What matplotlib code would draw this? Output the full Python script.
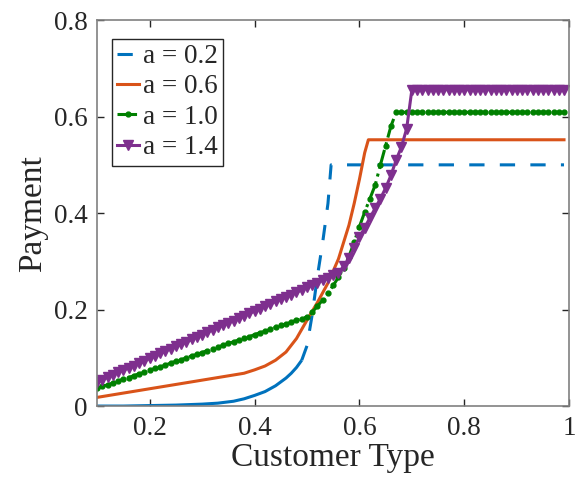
import numpy as np
import matplotlib
matplotlib.use("Agg")
import matplotlib.pyplot as plt

plt.rcParams['font.family'] = ['Liberation Serif', 'DejaVu Serif']
plt.rcParams['mathtext.fontset'] = 'stix'

# a = 0.2 (steep rise, then flat)
blue_x = [0.10, 0.15, 0.20, 0.25, 0.30, 0.33, 0.36, 0.38, 0.40, 0.42, 0.44, 0.46,
          0.47, 0.48, 0.49, 0.50, 0.51, 0.52, 0.53, 0.54, 0.546, 0.99]
blue_y = [0.000, 0.000, 0.001, 0.002, 0.004, 0.006, 0.010, 0.015, 0.022, 0.030, 0.042, 0.058,
          0.068, 0.080, 0.095, 0.125, 0.190, 0.270, 0.340, 0.420, 0.500, 0.500]

# a = 0.6
orange_x = [0.10, 0.38, 0.40, 0.42, 0.44, 0.46, 0.48, 0.50, 0.52, 0.54, 0.56,
            0.58, 0.59, 0.60, 0.61, 0.617, 0.99]
orange_y = [0.018, 0.068, 0.075, 0.083, 0.095, 0.112, 0.140, 0.178, 0.215, 0.255, 0.305,
            0.375, 0.420, 0.470, 0.525, 0.552, 0.552]

# a = 1.0 and a = 1.4 sampled every 0.01 from 0.10 to 0.99
grid_x = np.round(np.arange(0.10, 0.995, 0.01), 2)
green_y = [0.037, 0.041, 0.044, 0.048, 0.052, 0.056, 0.059, 0.063, 0.067, 0.070,
           0.074, 0.078, 0.081, 0.085, 0.089, 0.093, 0.096, 0.100, 0.104, 0.107,
           0.111, 0.115, 0.118, 0.122, 0.126, 0.130, 0.133, 0.137, 0.141, 0.144,
           0.148, 0.152, 0.155, 0.159, 0.163, 0.167, 0.170, 0.174, 0.178, 0.181,
           0.185, 0.195, 0.207, 0.220, 0.234, 0.250, 0.267, 0.287, 0.310, 0.340,
           0.372, 0.402, 0.430, 0.458, 0.500, 0.540, 0.580, 0.609, 0.609, 0.609,
           0.609, 0.609, 0.609, 0.609, 0.609, 0.609, 0.609, 0.609, 0.609, 0.609,
           0.609, 0.609, 0.609, 0.609, 0.609, 0.609, 0.609, 0.609, 0.609, 0.609,
           0.609, 0.609, 0.609, 0.609, 0.609, 0.609, 0.609, 0.609, 0.609, 0.609]
purple_y = [0.050, 0.055, 0.060, 0.065, 0.070, 0.075, 0.079, 0.084, 0.089, 0.094,
            0.099, 0.104, 0.109, 0.114, 0.119, 0.124, 0.128, 0.133, 0.138, 0.143,
            0.148, 0.153, 0.158, 0.163, 0.168, 0.173, 0.177, 0.182, 0.187, 0.192,
            0.197, 0.202, 0.207, 0.212, 0.217, 0.222, 0.226, 0.231, 0.236, 0.241,
            0.246, 0.251, 0.256, 0.261, 0.266, 0.271, 0.276, 0.290, 0.307, 0.328,
            0.350, 0.370, 0.390, 0.410, 0.430, 0.452, 0.478, 0.510, 0.537, 0.575,
            0.656, 0.656, 0.656, 0.656, 0.656, 0.656, 0.656, 0.656, 0.656, 0.656,
            0.656, 0.656, 0.656, 0.656, 0.656, 0.656, 0.656, 0.656, 0.656, 0.656,
            0.656, 0.656, 0.656, 0.656, 0.656, 0.656, 0.656, 0.656, 0.656, 0.656]

labels = ['a = 0.2', 'a = 0.6', 'a = 1.0', 'a = 1.4']
xticks = [0.2, 0.4, 0.6, 0.8, 1.0]
xticklabels = ['0.2', '0.4', '0.6', '0.8', '1']
yticks = [0, 0.2, 0.4, 0.6, 0.8]
yticklabels = ['0', '0.2', '0.4', '0.6', '0.8']

c_blue = '#0072BD'
c_orange = '#D95319'
c_green = '#008000'
c_purple = '#7E2F8E'
axcol = '#262626'

fig = plt.figure(figsize=(5.75, 4.91), dpi=100)
ax = fig.add_axes([0.169, 0.173, 0.821, 0.786])

lw = 2.2
# dense part of the a=0.2 curve renders solid, the sparse part dashed
k = blue_x.index(0.49)
ax.plot(blue_x[:k + 1], blue_y[:k + 1], color=c_blue, lw=lw, solid_capstyle='butt')
ax.plot(blue_x[k:], blue_y[k:], color=c_blue, lw=lw, dashes=(5, 5), label=labels[0])
ax.plot(orange_x, orange_y, color=c_orange, lw=lw, label=labels[1])
ax.plot(grid_x, green_y, color=c_green, lw=lw, ls='-.', marker='.', markersize=7,
        label=labels[2])
ax.plot(grid_x, purple_y, color=c_purple, lw=lw, marker='v', markersize=7,
        label=labels[3])

ax.set_xlim(0.1, 1.0)
ax.set_ylim(0, 0.8)
ax.set_xticks(xticks)
ax.set_xticklabels(xticklabels)
ax.set_yticks(yticks)
ax.set_yticklabels(yticklabels)
ax.tick_params(direction='in', top=True, right=True, length=5, width=1,
               colors=axcol, labelsize=19.5, pad=7)
for s in ax.spines.values():
    s.set_color('#808080')
    s.set_linewidth(1.2)

ax.set_xlabel('Customer Type', fontsize=24, color=axcol, labelpad=1)
ax.set_ylabel('Payment', fontsize=24, color=axcol, labelpad=4)

leg = ax.legend(loc='upper left', bbox_to_anchor=(0.031, 0.952), borderaxespad=0,
                fontsize=19.5, handlelength=0.8, handletextpad=0.15,
                labelspacing=0.2, borderpad=0.2, fancybox=False, framealpha=1)
leg.get_frame().set_edgecolor(axcol)
leg.get_frame().set_linewidth(1.0)
for t in leg.get_texts():
    t.set_color(axcol)

fig.savefig('out.png', dpi=100)
